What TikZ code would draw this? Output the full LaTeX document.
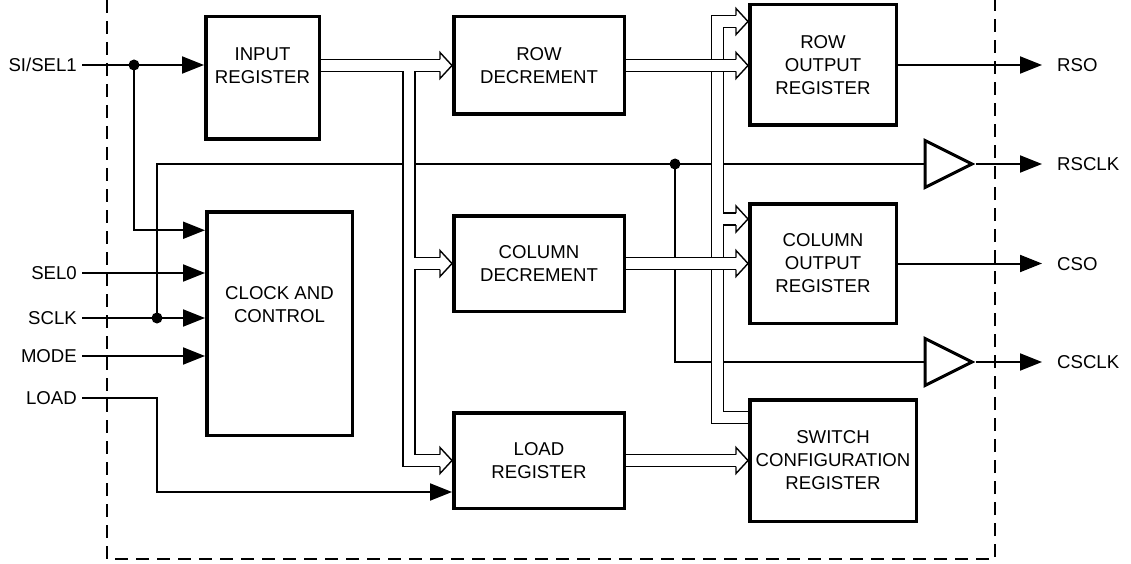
\documentclass[tikz,border=0pt]{standalone}
\usepackage{fontspec}
\setmainfont{Liberation Sans}
\usepackage{tikz}
\usetikzlibrary{arrows.meta,shapes.geometric,calc}
\pgfdeclarelayer{wires}
\pgfsetlayers{wires,main}
\tikzset{
  block/.style={draw=black,line width=3.5pt,fill=white,inner sep=0pt,align=center,
    font=\fontsize{18.6}{23}\selectfont},
  blocktext/.style={align=center,inner sep=0pt,font=\fontsize{18.6}{23}\selectfont},
  buffer/.style={isosceles triangle,isosceles triangle stretches,draw=black,line width=3pt,
    fill=white,minimum width=47pt,minimum height=47pt,inner sep=0pt,anchor=lower side},
  sig/.style={line width=2pt},
  sigarrow/.style={sig,-{Triangle[length=22pt,width=17pt]}},
  junction/.style={circle,fill=black,minimum size=11pt,inner sep=0pt},
  pinlbl/.style={anchor=east,inner xsep=5pt,inner ysep=0pt,text height=13.3pt,text depth=0pt,
    font=\fontsize{18.6}{23}\selectfont},
  outlbl/.style={anchor=west,inner xsep=15pt,inner ysep=0pt,text height=13.3pt,text depth=0pt,
    font=\fontsize{18.6}{23}\selectfont},
  chipedge/.style={line width=2.7pt,dash pattern=on 13pt off 8pt},
  bushead/.pic={\filldraw[fill=white,draw=black,line width=1.4pt]
    (-12,-6) -- (-12,-13) -- (0,0) -- (-12,13) -- (-12,6);}
}

\begin{document}
\begin{tikzpicture}[x=1pt,y=-1pt]
  \useasboundingbox (0,0) rectangle (1131,564);

  \node[block,minimum width=113.5pt,minimum height=122.5pt] (inreg) at (262.5,78) {};
  \node[blocktext] at (262.5,65.5) {INPUT\\REGISTER};
  \node[block,minimum width=145.5pt,minimum height=223.5pt] (clock) at (279.5,323.5) {};
  \node[blocktext] at (279.5,305) {CLOCK AND\\CONTROL};
  \node[block,minimum width=170.5pt,minimum height=97.5pt] (rowdec) at (539,65.5) {ROW\\DECREMENT};
  \node[block,minimum width=170.5pt,minimum height=95.5pt] (coldec) at (539,263.5) {COLUMN\\DECREMENT};
  \node[block,minimum width=170.5pt,minimum height=95.5pt] (loadreg) at (539,460.5) {LOAD\\REGISTER};
  \node[block,minimum width=146.5pt,minimum height=120.5pt] (rowout) at (823,65) {ROW\\OUTPUT\\REGISTER};
  \node[block,minimum width=146.5pt,minimum height=119.5pt] (colout) at (823,263.5) {COLUMN\\OUTPUT\\REGISTER};
  \node[block,minimum width=166.5pt,minimum height=121.5pt] (swcfg) at (833,460.5) {SWITCH\\CONFIGURATION\\REGISTER};
  \node[buffer] (buf1) at (923.5,164) {};
  \node[buffer] (buf2) at (923.5,362) {};

  \node[pinlbl] (si) at (82,65) {SI/SEL1};
  \node[pinlbl] (sel0) at (82,273) {SEL0};
  \node[pinlbl] (sclk) at (82,318) {SCLK};
  \node[pinlbl] (mode) at (82,356) {MODE};
  \node[pinlbl] (load) at (82,398) {LOAD};
  \node[outlbl] (rso) at (1042,65) {RSO};
  \node[outlbl] (rsclk) at (1042,164) {RSCLK};
  \node[outlbl] (cso) at (1042,263.5) {CSO};
  \node[outlbl] (csclk) at (1042,362) {CSCLK};

  \node[junction] (d1) at (134,65) {};
  \node[junction] (d2) at (157,318) {};
  \node[junction] (d3) at (675,164) {};

  \draw[chipedge] (107,0) -- (107,559) -- (995,559) -- (995,0);

  \begin{pgfonlayer}{wires}
  \draw[sigarrow] (si.east) -- (si.east -| inreg.west);
  \draw[sigarrow] (d1.center) |- ([yshift=-20.25pt]clock.north west);
  \draw[sigarrow] (sel0.east) -- (sel0.east -| clock.west);
  \draw[sigarrow] (sclk.east) -- (sclk.east -| clock.west);
  \draw[sigarrow] (mode.east) -- (mode.east -| clock.west);
  \draw[sigarrow] (load.east) -| (d2 |- 0,492) -- (loadreg.west |- 0,492);
  \draw[sig] (d2.center) |- (buf1.lower side);
  \draw[sig] (d3.center) |- (buf2.lower side);
  \draw[sigarrow] (rowout.east) -- (rso.west);
  \draw[sigarrow] (buf1.apex) -- (rsclk.west);
  \draw[sigarrow] (colout.east) -- (cso.west);
  \draw[sigarrow] (buf2.apex) -- (csclk.west);

  % switch configuration bus
  \coordinate (sbot) at (717.5,417.5);
  \coordinate (stop) at (717.5,21.5);
  \coordinate (scol) at (717.5,219);
  \foreach \w/\c in {13.4pt/black,10.6pt/white}
    \draw[line width=\w,draw=\c] (swcfg.west |- sbot) -- (sbot) -- (stop)
      -- ($(stop -| rowout.west)+(-12,0)$)
      (scol) -- ($(scol -| colout.west)+(-12,0)$);

  % decrement buses
  \foreach \w/\c in {13.4pt/black,10.6pt/white}
    \draw[line width=\w,draw=\c] (rowdec.east) -- ($(rowdec.east -| rowout.west)+(-12,0)$)
      (coldec.east) -- ($(coldec.east -| colout.west)+(-12,0)$);

  % input and load buses
  \coordinate (ijoin) at (409,65.5);
  \foreach \w/\c in {13.4pt/black,10.6pt/white}
    \draw[line width=\w,draw=\c] (inreg.east |- rowdec.west) -- ($(rowdec.west)+(-12,0)$)
      (ijoin) -- (ijoin |- loadreg.west) -- ($(loadreg.west)+(-12,0)$)
      (ijoin |- coldec.west) -- ($(coldec.west)+(-12,0)$)
      (loadreg.east) -- ($(loadreg.east -| swcfg.west)+(-12,0)$);

  \foreach \p in {rowdec.west,coldec.west,loadreg.west,rowout.west |- rowdec.east,
      rowout.west |- stop,colout.west |- coldec.east,colout.west |- scol,swcfg.west |- loadreg.east}
    \pic at (\p) {bushead};
  \end{pgfonlayer}
\end{tikzpicture}
\end{document}
